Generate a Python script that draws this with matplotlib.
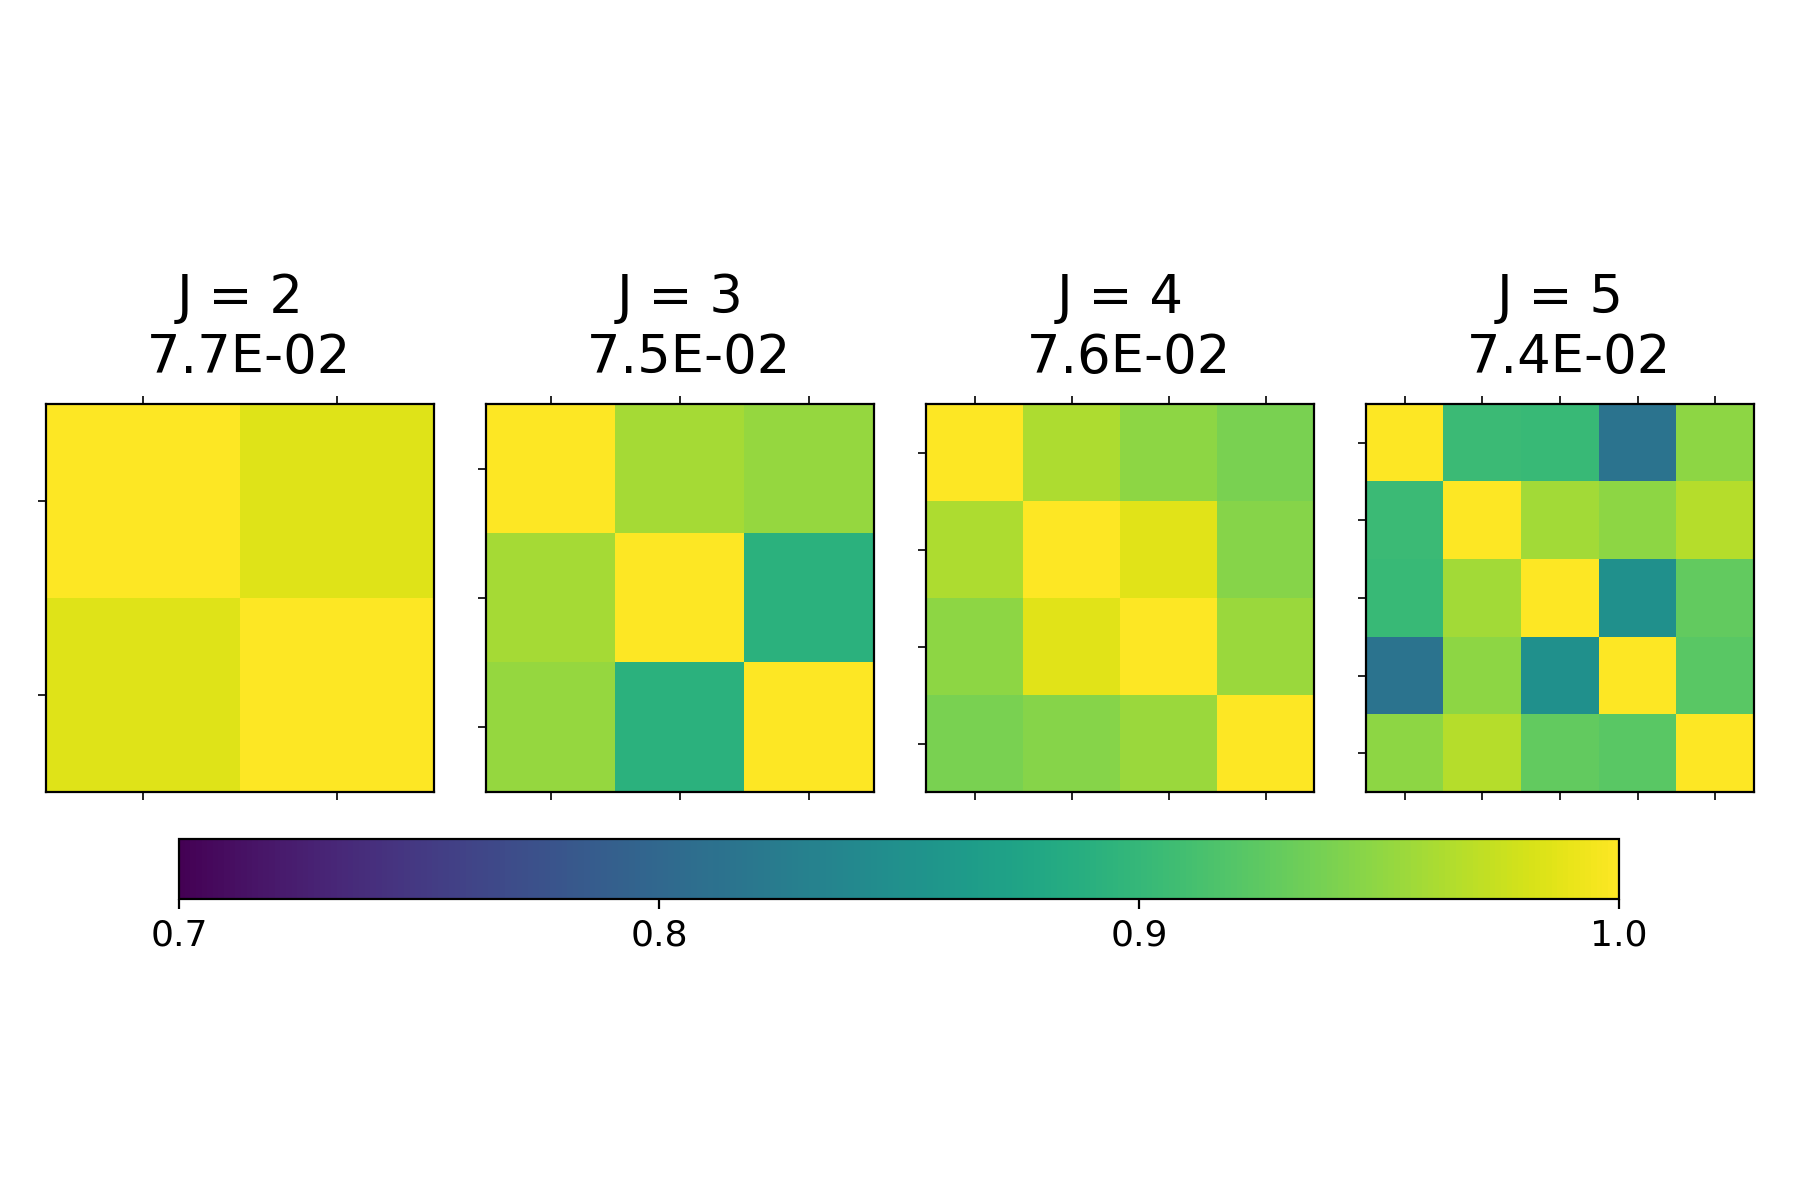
import numpy as np
import matplotlib
matplotlib.use("Agg")
import matplotlib.pyplot as plt

# correlation matrices, one per J
J_values = [2, 3, 4, 5]
errors = ["7.7E-02", "7.5E-02", "7.6E-02", "7.4E-02"]

corr_j2 = [[1.000, 0.985],
           [0.985, 1.000]]

corr_j3 = [[1.000, 0.960, 0.953],
           [0.960, 1.000, 0.892],
           [0.953, 0.892, 1.000]]

corr_j4 = [[1.000, 0.963, 0.949, 0.940],
           [0.963, 1.000, 0.987, 0.946],
           [0.949, 0.987, 1.000, 0.955],
           [0.940, 0.946, 0.955, 1.000]]

corr_j5 = [[1.000, 0.904, 0.902, 0.814, 0.949],
           [0.904, 1.000, 0.958, 0.949, 0.967],
           [0.902, 0.958, 1.000, 0.850, 0.928],
           [0.814, 0.949, 0.850, 1.000, 0.923],
           [0.949, 0.967, 0.928, 0.923, 1.000]]

matrices = [corr_j2, corr_j3, corr_j4, corr_j5]
cbar_ticks = [0.7, 0.8, 0.9, 1.0]

fig = plt.figure(figsize=(9, 6), dpi=200)

for i, (J, err, mat) in enumerate(zip(J_values, errors, matrices)):
    ax = fig.add_axes([(46 + 440 * i) / 1800, 0.34, 388 / 1800, 388 / 1200])
    im = ax.matshow(np.array(mat), cmap="viridis", vmin=0.7, vmax=1.0)
    n = len(mat)
    ax.set_xticks(range(n))
    ax.set_yticks(range(n))
    ax.set_xticklabels([])
    ax.set_yticklabels([])
    ax.tick_params(axis="x", top=True, bottom=True, length=3, width=0.6)
    ax.tick_params(axis="y", length=3, width=0.6)
    ax.set_title(f"J = {J}\n {err}", fontsize=19, linespacing=1.2, pad=11)

cax = fig.add_axes([179 / 1800, 1 - 899 / 1200, 1440 / 1800, 60 / 1200])
cb = fig.colorbar(im, cax=cax, orientation="horizontal", ticks=cbar_ticks)
cb.ax.tick_params(labelsize=13)
cb.ax.set_xticklabels([f"{t:.1f}" for t in cbar_ticks])

fig.savefig("out.png", dpi=200)
